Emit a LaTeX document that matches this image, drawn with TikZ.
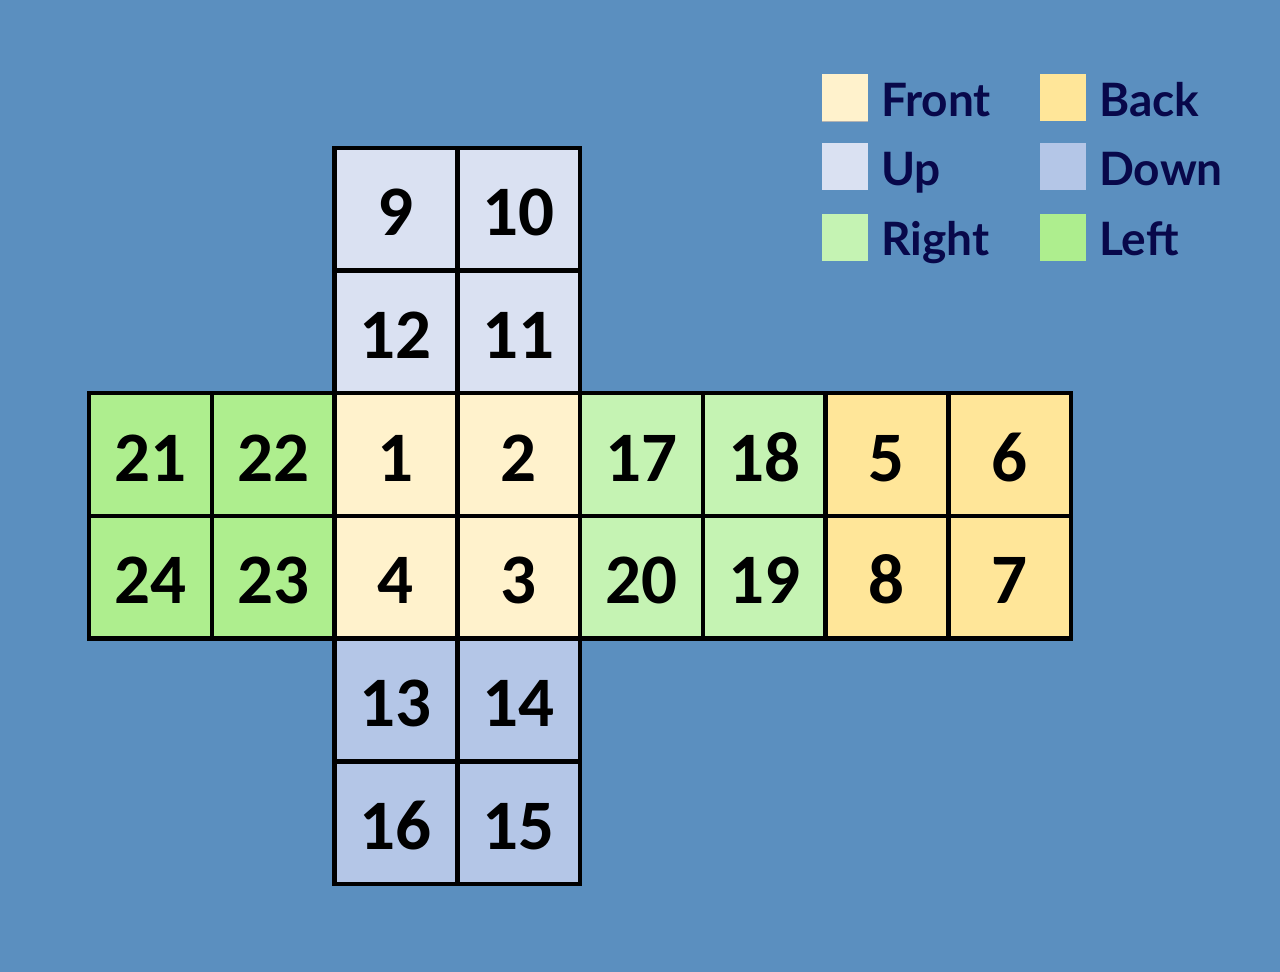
\documentclass[tikz,border=0pt]{standalone}
\usepackage{fontspec}
\setmainfont{Carlito}
\newfontfamily\legfont{Lato}
\definecolor{bg}{HTML}{5B8FBF}
\definecolor{cfront}{HTML}{FFF2CC}
\definecolor{cback}{HTML}{FFE699}
\definecolor{cup}{HTML}{DAE1F2}
\definecolor{cdown}{HTML}{B4C6E7}
\definecolor{cright}{HTML}{C5F3B3}
\definecolor{cleft}{HTML}{AEEE8E}
\definecolor{navy}{HTML}{08084A}
\tikzset{
  cell/.style={draw=black, line width=4.4pt, minimum size=122.7pt, inner sep=0pt,
    text height=53pt, text depth=0pt,
    font=\fontsize{71}{71}\selectfont\bfseries, text=black},
  legsq/.style={minimum width=46pt, minimum height=47pt, inner sep=0pt, anchor=north west},
  legtxt/.style={anchor=base west, inner sep=0pt, text=navy, font=\legfont\fontsize{46}{46}\selectfont\bfseries}
}
\begin{document}
\begin{tikzpicture}[x=1pt,y=-1pt]
\fill[bg] (0,0) rectangle (1280,972);
\useasboundingbox (0,0) rectangle (1280,972);
\foreach \c/\r/\t/\col in {
  2/0/9/cup, 3/0/10/cup, 2/1/12/cup, 3/1/11/cup,
  0/2/21/cleft, 1/2/22/cleft, 2/2/1/cfront, 3/2/2/cfront, 4/2/17/cright, 5/2/18/cright, 6/2/5/cback, 7/2/6/cback,
  0/3/24/cleft, 1/3/23/cleft, 2/3/4/cfront, 3/3/3/cfront, 4/3/20/cright, 5/3/19/cright, 6/3/8/cback, 7/3/7/cback,
  2/4/13/cdown, 3/4/14/cdown, 2/5/16/cdown, 3/5/15/cdown}{
  \node[cell, fill=\col] (n\t) at ({89+122.75*\c+61.4},{148+122.67*\r+61.3}) {\t};
}
% legend
\node[legsq, fill=cfront] (sqF) at (822,74) {};
\draw[gray!60, line width=1.5pt] (sqF.south west) -- (sqF.south east);
\node[legsq, fill=cup] (sqU) at (822,143) {};
\node[legsq, fill=cright] (sqR) at (822,214) {};
\node[legsq, fill=cback] (sqB) at (1040,74) {};
\node[legsq, fill=cdown] (sqD) at (1040,143) {};
\node[legsq, fill=cleft] (sqL) at (1040,214) {};
\node[legtxt] (tF) at (881,116) {Front};
\node[legtxt] (tU) at (881,185) {Up};
\node[legtxt] (tR) at (881,255) {Right};
\node[legtxt] (tB) at (1099,116) {Back};
\node[legtxt] (tD) at (1099,185) {Down};
\node[legtxt] (tL) at (1099,255) {Left};
\end{tikzpicture}
\end{document}
